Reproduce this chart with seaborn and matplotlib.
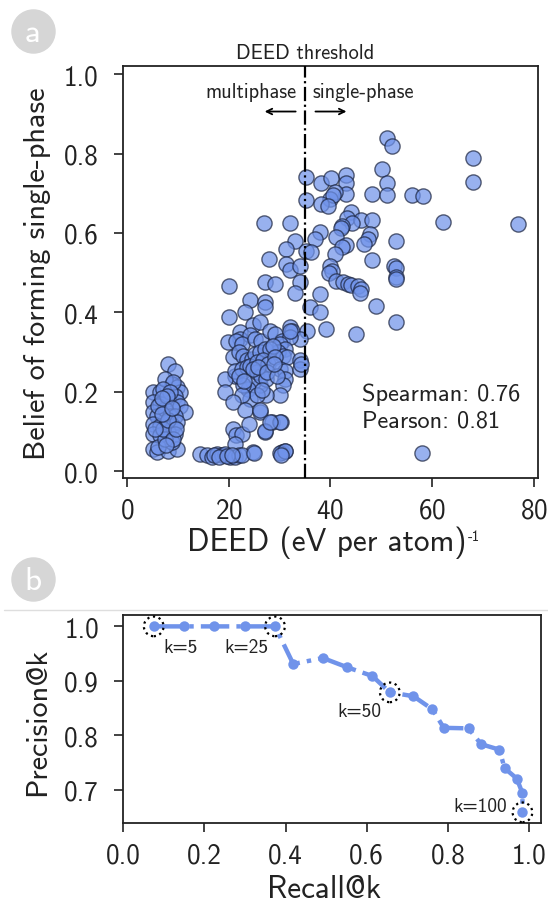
import numpy as np
import pandas as pd
import matplotlib
matplotlib.use("Agg")
import matplotlib.pyplot as plt
import seaborn as sns
from matplotlib.lines import Line2D

# ---------------- data: panel a (DEED vs belief) ----------------
deed_x = [
    35.1, 35.1, 38.2, 40.1, 43.0, 43.0, 43.0, 40.9, 39.9, 40.5, 38.2, 39.6, 48.1, 50.2, 51.1, 52.1,
    51.1, 51.1, 56.0, 58.2, 68.1, 68.1, 62.1, 77.0, 27.0, 32.0, 44.0, 43.3, 46.1, 48.1, 44.2, 42.3,
    42.0, 38.0, 41.1, 47.8, 47.3, 46.6, 53.0, 33.0, 36.9, 43.0, 42.3, 40.9, 31.2, 35.1, 36.1, 28.0,
    48.1, 31.2, 32.0, 34.1, 40.0, 40.3, 39.8, 52.5, 53.0, 53.0,
    41.1, 42.4, 43.4, 44.1, 45.5, 46.1, 45.8, 27.1, 29.0, 34.1, 33.0, 20.1, 53.0, 24.2, 27.1, 27.1,
    23.2, 20.1, 24.8, 26.1, 32.0, 32.4, 36.0, 37.9, 37.9, 39.2, 35.3, 34.0, 48.9, 53.0, 45.0, 22.2,
    22.2, 24.2, 19.9, 21.5, 22.5, 25.1, 26.4, 28.1, 29.1, 30.4, 32.0, 32.0, 30.1, 31.0,
    29.7, 30.7, 31.4, 20.9, 21.9, 22.8, 23.5, 24.5, 25.1, 26.1, 27.1, 28.1, 28.7, 21.2, 19.2, 19.2,
    21.2, 22.5, 23.5, 24.2, 25.5, 26.8, 27.8, 29.1, 30.1, 31.0, 31.0, 30.7, 30.1, 27.4, 26.1, 24.8,
    23.8, 22.8, 24.2, 25.5, 22.5, 20.9, 23.2, 26.1, 28.4, 30.2, 27.1, 20.9, 21.5, 22.5, 21.2, 34.0,
    34.0, 25.5, 26.4, 27.4, 24.8, 30.1, 30.4, 31.0, 24.8, 27.1, 28.1, 26.1, 34.2, 22.0, 23.0, 25.8,
    27.5, 29.5, 26.5, 23.9, 28.8,
    8.08, 9.39, 4.99, 6.44, 8.73, 9.72, 10.38, 9.39, 4.99, 6.44, 8.08, 9.72, 10.38, 11.36, 4.99, 5.78,
    7.42, 8.4, 9.39, 4.99, 6.44, 7.75, 9.06, 9.72, 4.99, 6.44, 8.08, 9.39, 4.99, 5.9, 8.08, 9.72,
    8.73, 7.42, 9.06, 7.1, 8.4, 6.1, 7.4, 7.0, 8.0, 6.0, 7.8, 6.8, 9.0, 5.5, 6.8, 8.9, 9.5, 7.6,
    14.3, 15.6, 16.6, 17.6, 18.6, 19.2, 20.2, 21.2, 21.9, 22.5, 24.9, 30.1, 31.0, 30.3, 58.1, 17.0,
    18.0, 19.7, 20.7,
]
belief_y = [
    0.740, 0.682, 0.725, 0.739, 0.745, 0.725, 0.697, 0.703, 0.686, 0.695, 0.672, 0.668, 0.697, 0.761, 0.839, 0.820,
    0.726, 0.695, 0.695, 0.693, 0.789, 0.728, 0.627, 0.622, 0.626, 0.626, 0.652, 0.638, 0.632, 0.632, 0.625, 0.618,
    0.612, 0.602, 0.590, 0.598, 0.585, 0.573, 0.580, 0.581, 0.585, 0.569, 0.565, 0.547, 0.560, 0.554, 0.551, 0.535,
    0.533, 0.521, 0.508, 0.518, 0.518, 0.505, 0.498, 0.517, 0.513, 0.488,
    0.480, 0.476, 0.472, 0.469, 0.467, 0.460, 0.448, 0.476, 0.472, 0.476, 0.449, 0.466, 0.484, 0.432, 0.426, 0.413,
    0.402, 0.388, 0.367, 0.375, 0.363, 0.354, 0.413, 0.446, 0.402, 0.358, 0.354, 0.333, 0.415, 0.377, 0.346, 0.350,
    0.333, 0.342, 0.325, 0.327, 0.321, 0.333, 0.329, 0.354, 0.346, 0.329, 0.337, 0.354, 0.321, 0.308,
    0.300, 0.291, 0.287, 0.287, 0.300, 0.291, 0.279, 0.283, 0.295, 0.300, 0.308, 0.308, 0.316, 0.241, 0.233, 0.199,
    0.253, 0.258, 0.262, 0.266, 0.274, 0.279, 0.270, 0.287, 0.258, 0.253, 0.233, 0.216, 0.191, 0.191, 0.216, 0.224,
    0.207, 0.216, 0.182, 0.191, 0.191, 0.174, 0.153, 0.149, 0.123, 0.123, 0.098, 0.107, 0.090, 0.094, 0.069, 0.279,
    0.258, 0.249, 0.241, 0.233, 0.258, 0.123, 0.048, 0.052, 0.048, 0.102, 0.123, 0.153, 0.270, 0.240, 0.228, 0.262,
    0.250, 0.240, 0.205, 0.118, 0.270,
    0.270, 0.253, 0.199, 0.199, 0.220, 0.212, 0.199, 0.190, 0.174, 0.170, 0.182, 0.174, 0.165, 0.149, 0.149, 0.140,
    0.157, 0.140, 0.140, 0.119, 0.115, 0.123, 0.115, 0.123, 0.094, 0.090, 0.098, 0.094, 0.056, 0.048, 0.052, 0.056,
    0.073, 0.232, 0.224, 0.207, 0.199, 0.060, 0.080, 0.105, 0.130, 0.165, 0.190, 0.145, 0.080, 0.105, 0.185, 0.160, 0.105, 0.065,
    0.044, 0.040, 0.036, 0.044, 0.040, 0.042, 0.035, 0.035, 0.040, 0.040, 0.046, 0.046, 0.050, 0.040, 0.045, 0.040,
    0.036, 0.038, 0.040,
]
threshold = 35.0
spearman = 0.76
pearson = 0.81

# ---------------- data: panel b (precision/recall @ k) ----------------
k_values = [5, 10, 15, 20, 25, 30, 35, 40, 45, 50, 55, 60, 65, 70, 75, 80, 85, 90, 95, 100]
recall_k = [0.075, 0.150, 0.223, 0.299, 0.374, 0.419, 0.492, 0.552, 0.614, 0.657,
            0.715, 0.762, 0.790, 0.851, 0.882, 0.927, 0.940, 0.970, 0.984, 0.984]
precision_k = [1.0, 1.0, 1.0, 1.0, 1.0, 0.931, 0.942, 0.925, 0.909, 0.879,
               0.872, 0.848, 0.814, 0.813, 0.784, 0.774, 0.740, 0.721, 0.694, 0.659]
highlight_k = [5, 25, 50, 100]

# ---------------- style ----------------
sns.set_style("ticks")
plt.rcParams['font.family'] = ['cmss10', 'DejaVu Sans']
plt.rcParams['mathtext.fontset'] = 'custom'
plt.rcParams['mathtext.rm'] = 'cmss10'
plt.rcParams['mathtext.default'] = 'rm'
plt.rcParams['axes.unicode_minus'] = False
plt.rcParams['axes.formatter.use_mathtext'] = True

BLUE = '#7093ea'
TXT = '#222222'
TICK_FS = 19.5
YLABEL_FS = 21.8
XLABEL_FS = 22.5

fig = plt.figure(figsize=(5.48, 9.03), dpi=100)

# ================= panel a =================
ax1 = fig.add_axes([0.2239, 0.4692, 0.7573, 0.4563])
df_a = pd.DataFrame({'deed': deed_x, 'belief': belief_y})
sns.scatterplot(data=df_a, x='deed', y='belief', ax=ax1, s=120, color=BLUE, alpha=0.72,
                edgecolor='#1c2540', linewidth=1.0, zorder=3)
ax1.axvline(threshold, color='black', linestyle='-.', linewidth=1.6, zorder=4)
ax1.set_xlim(-0.9, 80.8)
ax1.set_ylim(-0.018, 1.02)
ax1.set_xticks([0, 20, 40, 60, 80])
ax1.set_yticks([0.0, 0.2, 0.4, 0.6, 0.8, 1.0])
ax1.set_yticklabels(['0.0', '0.2', '0.4', '0.6', '0.8', '1.0'])
ax1.set_xlabel('DEED (eV per atom)', fontsize=XLABEL_FS, color=TXT)
ax1.set_ylabel('Belief of forming single-phase', fontsize=YLABEL_FS, color=TXT)
ax1.xaxis.set_label_coords(0.492, -0.115)
ax1.yaxis.set_label_coords(-0.173, 0.5)
ax1.tick_params(axis='both', labelsize=TICK_FS, length=6.5, width=1.2, colors=TXT)
ax1.tick_params(axis='y', pad=11)
ax1.tick_params(axis='x', pad=7)
for sp in ax1.spines.values():
    sp.set_linewidth(1.3)
    sp.set_color('#222222')

ax1.text(threshold, 1.055, 'DEED threshold', ha='center', va='center', fontsize=14.7, color=TXT,
         clip_on=False)
ax1.text(33.4, 0.956, 'multiphase', ha='right', va='center', fontsize=14.7, color=TXT)
ax1.text(36.5, 0.956, 'single-phase', ha='left', va='center', fontsize=14.7, color=TXT)
ax1.annotate('', xy=(26.5, 0.906), xytext=(33.7, 0.906),
             arrowprops=dict(arrowstyle='->', color='black', lw=1.3))
ax1.annotate('', xy=(43.7, 0.906), xytext=(36.5, 0.906),
             arrowprops=dict(arrowstyle='->', color='black', lw=1.3))
ax1.text(46.2, 0.162, f'Spearman: {spearman:.2f}\nPearson: {pearson:.2f}', ha='left', va='center',
         fontsize=17.5, color=TXT, linespacing=1.25)

# ================= panel b =================
ax2 = fig.add_axes([0.2250, 0.0872, 0.7617, 0.2307])
df_b = pd.DataFrame({'recall': recall_k, 'precision': precision_k, 'k': k_values})
sns.lineplot(data=df_b, x='recall', y='precision', ax=ax2, estimator=None, sort=False,
             color=BLUE, linewidth=3.2, linestyle='-.', marker='o', markersize=7.5,
             markeredgewidth=0, zorder=3)
hl = df_b[df_b['k'].isin(highlight_k)]
ax2.scatter(hl['recall'], hl['precision'], s=200, facecolors='none', edgecolors='black',
            linewidths=1.6, linestyles=':', zorder=4)
label_pos = {5: (0.140, 0.962), 25: (0.304, 0.962), 50: (0.583, 0.844), 100: (0.879, 0.670)}
for k in highlight_k:
    lx, ly = label_pos[k]
    ax2.text(lx, ly, f'k={k}', ha='center', va='center', fontsize=14, color=TXT)
ax2.set_xlim(0.0, 1.029)
ax2.set_ylim(0.639, 1.021)
ax2.set_xticks([0.0, 0.2, 0.4, 0.6, 0.8, 1.0])
ax2.set_xticklabels(['0.0', '0.2', '0.4', '0.6', '0.8', '1.0'])
ax2.set_yticks([0.7, 0.8, 0.9, 1.0])
ax2.set_yticklabels(['0.7', '0.8', '0.9', '1.0'])
ax2.set_xlabel('Recall@k', fontsize=XLABEL_FS, color=TXT)
ax2.set_ylabel('Precision@k', fontsize=YLABEL_FS, color=TXT)
ax2.xaxis.set_label_coords(0.48, -0.245)
ax2.yaxis.set_label_coords(-0.173, 0.49)
ax2.tick_params(axis='both', labelsize=TICK_FS, length=6.5, width=1.2, colors=TXT)
ax2.tick_params(axis='y', pad=11)
ax2.tick_params(axis='x', pad=7)
for sp in ax2.spines.values():
    sp.set_linewidth(1.3)
    sp.set_color('#222222')

# ================= panel badges and separator =================
W, H = 548.0, 903.0
for (cx, cy, letter) in [(33, 32, 'a'), (33, 580, 'b')]:
    fig.add_artist(Line2D([cx / W], [1 - cy / H], marker='o', markersize=31, color='#d6d6d6',
                          transform=fig.transFigure, zorder=5, linestyle='none'))
    fig.text(cx / W, 1 - cy / H - 0.002, letter, ha='center', va='center', fontsize=24,
             color='white', zorder=6)
fig.add_artist(Line2D([3.5 / W, 1.0], [1 - 611 / H, 1 - 611 / H], color='#dedede', lw=1.0,
                      transform=fig.transFigure))

# small superscript "-1" right after the x label of panel a
fig.canvas.draw()
bb = ax1.xaxis.label.get_window_extent(fig.canvas.get_renderer())
fig.text((bb.x1 + 1.5) / W, (bb.y1 - 3) / H, '-1', ha='left', va='top', fontsize=10.5, color=TXT)

fig.savefig('out.png', dpi=100)
